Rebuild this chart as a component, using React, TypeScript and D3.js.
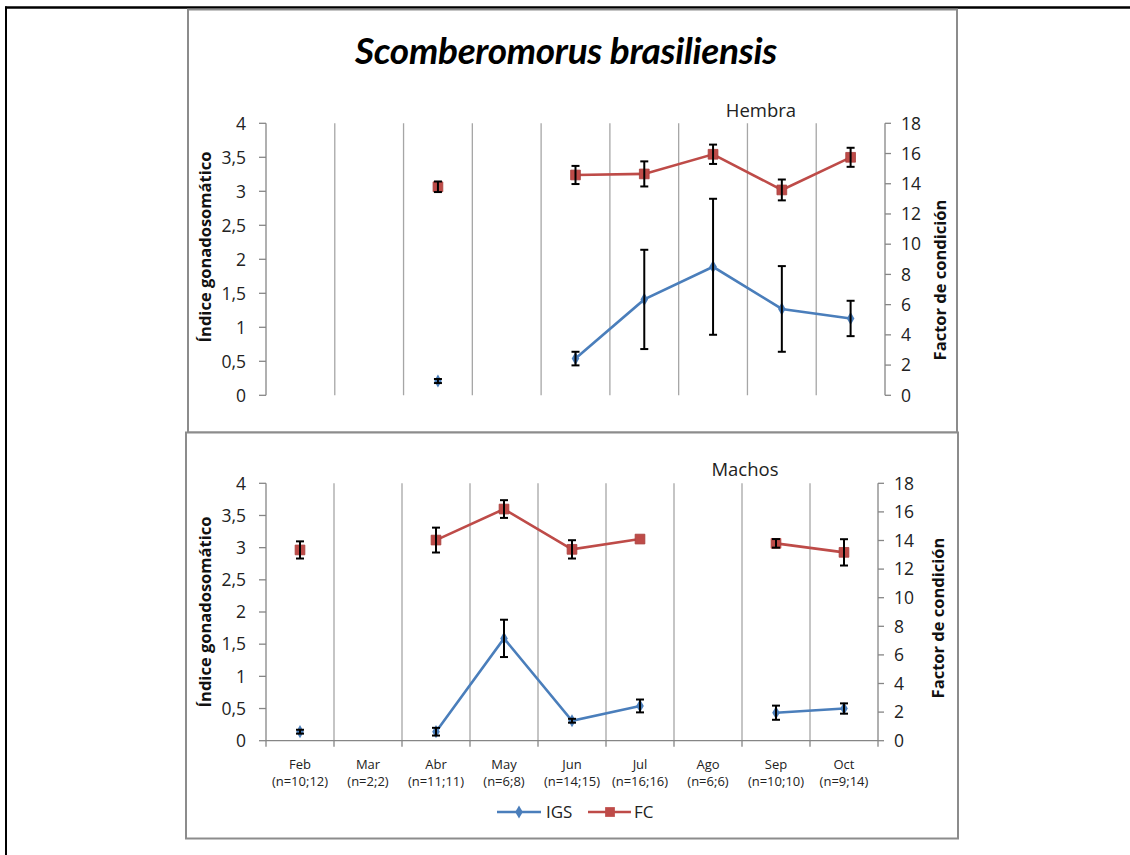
import React from "react";
import * as d3 from "d3";

const months = ["Feb", "Mar", "Abr", "May", "Jun", "Jul", "Ago", "Sep", "Oct"];
const nLabels = ["(n=10;12)", "(n=2;2)", "(n=11;11)", "(n=6;8)", "(n=14;15)", "(n=16;16)", "(n=6;6)", "(n=10;10)", "(n=9;14)"];

const hembraIGS = [null, null, 0.21, null, 0.54, 1.41, 1.89, 1.27, 1.13];
const hembraIGSErr = [null, null, 0.03, null, 0.1, 0.73, 1.0, 0.63, 0.26];
const hembraFC = [null, null, 13.8, null, 14.58, 14.65, 15.95, 13.59, 15.75];
const hembraFCErr = [null, null, 0.35, null, 0.6, 0.83, 0.64, 0.69, 0.63];

const machosIGS = [0.14, null, 0.14, 1.59, 0.31, 0.54, null, 0.435, 0.5];
const machosIGSErr = [0.03, null, 0.06, 0.29, 0.03, 0.1, null, 0.11, 0.08];
const machosFC = [13.34, null, 14.03, 16.2, 13.38, 14.1, null, 13.8, 13.17];
const machosFCErr = [0.6, null, 0.87, 0.62, 0.64, 0, null, 0.3, 0.92];

const igsTicks = [0, 0.5, 1, 1.5, 2, 2.5, 3, 3.5, 4];
const fcTicks = [0, 2, 4, 6, 8, 10, 12, 14, 16, 18];

const BLUE = "#4a7ebb";
const RED = "#be4b48";
const AXIS = "#868686";
const GRID = "#a6a6a6";
const FONT = "'Open Sans', sans-serif";

type Num = number | null;

interface PanelCfg {
  label: string;
  labelX: number;
  labelY: number;
  x0: number;
  x1: number;
  yTop: number;
  yBot: number;
  showX: boolean;
  leftTitle: [number, number];
  rightTitle: [number, number];
  igs: Num[];
  igsErr: Num[];
  fc: Num[];
  fcErr: Num[];
}

const fmt = (v: number) => String(v).replace(".", ",");

function Panel({ c }: { c: PanelCfg }) {
  const x = d3.scaleBand<string>().domain(months).range([c.x0, c.x1]).padding(0);
  const bw = x.bandwidth();
  const cx = (i: number) => (x(months[i]) as number) + bw / 2;
  const yL = d3.scaleLinear().domain([0, 4]).range([c.yBot, c.yTop]);
  const yR = d3.scaleLinear().domain([0, 18]).range([c.yBot, c.yTop]);

  const mkLine = (y: d3.ScaleLinear<number, number>) =>
    d3
      .line<Num>()
      .defined((d) => d != null)
      .x((_, i) => cx(i))
      .y((d) => y(d as number));

  const errBars = (vals: Num[], errs: Num[], y: d3.ScaleLinear<number, number>, key: string) =>
    vals.map((v, i) => {
      if (v == null || errs[i] == null || errs[i] === 0) return null;
      const e = errs[i] as number;
      const yt = y(v + e);
      const yb = y(v - e);
      const xc = cx(i);
      return (
        <g key={key + i} stroke="#000" strokeWidth={2}>
          <line x1={xc} x2={xc} y1={yt} y2={yb} />
          <line x1={xc - 4} x2={xc + 4} y1={yt} y2={yt} />
          <line x1={xc - 4} x2={xc + 4} y1={yb} y2={yb} />
        </g>
      );
    });

  const diamond = d3.symbol().type(d3.symbolDiamond).size(50)();
  const square = d3.symbol().type(d3.symbolSquare).size(95)();

  return (
    <g>
      {months.slice(1).map((m) => (
        <line key={"g" + m} x1={x(m) as number} x2={x(m) as number} y1={c.yTop} y2={c.yBot} stroke={GRID} strokeWidth={1.3} />
      ))}
      <line x1={c.x0} x2={c.x0} y1={c.yTop} y2={c.yBot} stroke={AXIS} strokeWidth={1.3} />
      {igsTicks.map((t) => (
        <g key={"l" + t}>
          <line x1={c.x0 - 7} x2={c.x0} y1={yL(t)} y2={yL(t)} stroke={AXIS} strokeWidth={1.3} />
          <text x={c.x0 - 20} y={yL(t)} dy="0.36em" textAnchor="end" fontFamily={FONT} fontSize={17.5} fill="#222">
            {fmt(t)}
          </text>
        </g>
      ))}
      <line x1={c.x1} x2={c.x1} y1={c.yTop} y2={c.yBot} stroke={AXIS} strokeWidth={1.3} />
      {fcTicks.map((t) => (
        <g key={"r" + t}>
          <line x1={c.x1} x2={c.x1 + 6} y1={yR(t)} y2={yR(t)} stroke={AXIS} strokeWidth={1.3} />
          <text x={c.x1 + 16} y={yR(t)} dy="0.36em" textAnchor="start" fontFamily={FONT} fontSize={17.5} fill="#222">
            {t}
          </text>
        </g>
      ))}
      {c.showX && (
        <g>
          <line x1={c.x0} x2={c.x1} y1={c.yBot} y2={c.yBot} stroke={AXIS} strokeWidth={1.3} />
          {d3.range(months.length + 1).map((i) => (
            <line key={"xt" + i} x1={c.x0 + i * bw} x2={c.x0 + i * bw} y1={c.yBot} y2={c.yBot + 6} stroke={AXIS} strokeWidth={1.3} />
          ))}
          {months.map((m, i) => (
            <g key={"xl" + m} fontFamily={FONT} fontSize={13} fill="#222" textAnchor="middle">
              <text x={cx(i)} y={c.yBot + 28}>{m}</text>
              <text x={cx(i)} y={c.yBot + 45}>{nLabels[i]}</text>
            </g>
          ))}
        </g>
      )}
      <text
        transform={`translate(${c.leftTitle[0]},${c.leftTitle[1]}) rotate(-90)`}
        textAnchor="middle"
        dy="0.35em"
        fontFamily={FONT}
        fontWeight="bold"
        fontSize={16.5}
        fill="#111"
      >
        Índice gonadosomático
      </text>
      <text
        transform={`translate(${c.rightTitle[0]},${c.rightTitle[1]}) rotate(-90)`}
        textAnchor="middle"
        dy="0.35em"
        fontFamily={FONT}
        fontWeight="bold"
        fontSize={16.5}
        fill="#111"
      >
        Factor de condición
      </text>
      <text x={c.labelX} y={c.labelY} textAnchor="middle" fontFamily={FONT} fontSize={18.5} fill="#222">
        {c.label}
      </text>
      <path d={mkLine(yR)(c.fc) || ""} fill="none" stroke={RED} strokeWidth={2.6} />
      <path d={mkLine(yL)(c.igs) || ""} fill="none" stroke={BLUE} strokeWidth={2.6} />
      {c.fc.map((v, i) =>
        v == null ? null : <path key={"fm" + i} d={square as string} transform={`translate(${cx(i)},${yR(v)})`} fill={RED} stroke="#a8403d" strokeWidth={0.8} />
      )}
      {c.igs.map((v, i) =>
        v == null ? null : <path key={"im" + i} d={diamond as string} transform={`translate(${cx(i)},${yL(v)})`} fill={BLUE} />
      )}
      {errBars(c.fc, c.fcErr, yR, "fe")}
      {errBars(c.igs, c.igsErr, yL, "ie")}
    </g>
  );
}

const panels: PanelCfg[] = [
  {
    label: "Hembra",
    labelX: 761,
    labelY: 117,
    x0: 266,
    x1: 885,
    yTop: 123.3,
    yBot: 395.3,
    showX: false,
    leftTitle: [205, 247],
    rightTitle: [940, 280],
    igs: hembraIGS,
    igsErr: hembraIGSErr,
    fc: hembraFC,
    fcErr: hembraFCErr,
  },
  {
    label: "Machos",
    labelX: 745,
    labelY: 476,
    x0: 266,
    x1: 878,
    yTop: 483.3,
    yBot: 740.7,
    showX: true,
    leftTitle: [205, 612],
    rightTitle: [938, 618],
    igs: machosIGS,
    igsErr: machosIGSErr,
    fc: machosFC,
    fcErr: machosFCErr,
  },
];

export default function App() {
  const diamond = d3.symbol().type(d3.symbolDiamond).size(50)();
  const square = d3.symbol().type(d3.symbolSquare).size(95)();
  return (
    <svg
      width={1130}
      height={855}
      style={{ position: "absolute", left: 0, top: 0, background: "#fff" }}
      xmlns="http://www.w3.org/2000/svg"
    >
      <rect x={0} y={0} width={1130} height={855} fill="#fff" />
      <line x1={5} x2={1130} y1={7.5} y2={7.5} stroke="#000" strokeWidth={2.5} />
      <line x1={6} x2={6} y1={6.5} y2={855} stroke="#000" strokeWidth={2} />
      <rect x={188} y={9.5} width={769} height={423} fill="#fff" stroke="#8c8c8c" strokeWidth={2} />
      <rect x={186} y={432.5} width={772} height={406} fill="#fff" stroke="#8c8c8c" strokeWidth={2} />
      <text x={566} y={64} textAnchor="middle" fontFamily="Lato, sans-serif" fontStyle="italic" fontWeight="bold" fontSize={37} letterSpacing={-0.3} fill="#000">
        Scomberomorus brasiliensis
      </text>
      {panels.map((p) => (
        <Panel key={p.label} c={p} />
      ))}
      <g>
        <line x1={497} x2={541} y1={812} y2={812} stroke={BLUE} strokeWidth={2.6} />
        <path d={diamond as string} transform="translate(519,812)" fill={BLUE} />
        <text x={546} y={812} dy="0.36em" fontFamily={FONT} fontSize={17} fill="#222">IGS</text>
        <line x1={588} x2={631} y1={812} y2={812} stroke={RED} strokeWidth={2.6} />
        <path d={square as string} transform="translate(610,812)" fill={RED} />
        <text x={634} y={812} dy="0.36em" fontFamily={FONT} fontSize={17} fill="#222">FC</text>
      </g>
    </svg>
  );
}
